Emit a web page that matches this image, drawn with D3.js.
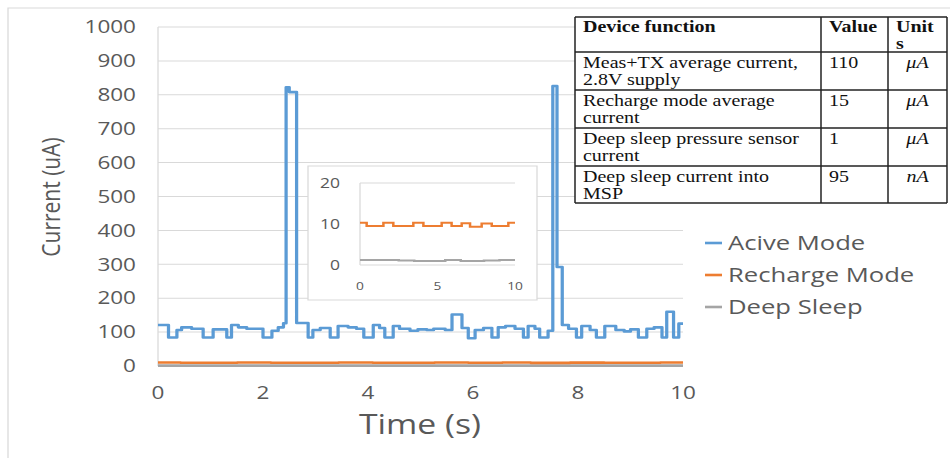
<!DOCTYPE html>
<html>
<head>
<meta charset="utf-8">
<script src="https://cdn.jsdelivr.net/npm/d3@7"></script>
<style>
    body { margin: 0; background: #fff; }
    svg { display: block; }
</style>
</head>
<body>
<svg id="chart"></svg>
<script>
"use strict";

// step series: time (s) where a level starts, and the level (uA)
var blueTime = [0.00, 0.20, 0.36, 0.45, 0.64, 0.86, 1.05, 1.31, 1.40, 1.53, 1.69, 2.00, 2.17, 2.29, 2.39,
    2.44, 2.50, 2.64, 2.86, 2.95, 3.09, 3.28, 3.43, 3.62, 3.78, 3.92, 4.10, 4.22, 4.32, 4.48, 4.60, 4.80,
    4.95, 5.12, 5.25, 5.47, 5.60, 5.79, 5.91, 6.04, 6.20, 6.36, 6.48, 6.62, 6.80, 6.96, 7.05, 7.18, 7.27,
    7.43, 7.52, 7.60, 7.70, 7.82, 7.97, 8.07, 8.23, 8.35, 8.51, 8.72, 8.88, 9.00, 9.15, 9.31, 9.45, 9.60,
    9.69, 9.82, 9.92, 10.00];
var blueCurrent = [121, 84, 106, 114, 110, 84, 108, 84, 121, 114, 110, 84, 104, 114, 126,
    822, 808, 127, 84, 106, 112, 84, 118, 114, 110, 84, 121, 112, 84, 118, 110, 104,
    108, 106, 110, 106, 152, 112, 82, 106, 112, 84, 114, 118, 110, 84, 118, 110, 84,
    104, 826, 292, 121, 110, 84, 118, 106, 84, 118, 106, 102, 108, 84, 110, 114, 84,
    160, 84, 125, 125];

var orangeTime = [0.00, 0.43, 1.51, 2.15, 3.44, 4.09, 5.27, 5.91, 6.56, 7.10, 7.85, 8.50, 9.57, 10.00];
var orangeCurrent = [10.3, 9.5, 10.3, 9.5, 10.3, 9.5, 10.3, 9.5, 10.2, 9.3, 10.1, 9.5, 10.3, 10.3];

var grayTime = [0.0, 2.5, 3.5, 5.5, 6.5, 8.0, 9.0, 10.0];
var grayCurrent = [1.2, 1.1, 1.0, 1.2, 1.0, 1.1, 1.2, 1.2];

var yTicks = [0, 100, 200, 300, 400, 500, 600, 700, 800, 900, 1000];
var xTicks = [0, 2, 4, 6, 8, 10];
var insetXTicks = [0, 5, 10];
var insetYTicks = [0, 10, 20];

var seriesNames = ["Acive Mode", "Recharge Mode", "Deep Sleep"];
var seriesColors = ["#5b9bd5", "#ed7d31", "#a5a5a5"];

var tableHeader = ["Device function", "Value", ["Unit", "s"]];
var tableFunction = [["Meas+TX average current,", "2.8V supply"], ["Recharge mode average", "current"],
    ["Deep sleep pressure sensor", "current"], ["Deep sleep current into", "MSP"]];
var tableValue = ["110", "15", "1", "95"];
var tableUnit = ["\u03bcA", "\u03bcA", "\u03bcA", "nA"];

// the picture is stretched sideways; draw in a narrower box and let the viewBox widen it
var WIDTH = 950,
    HEIGHT = 458,
    STRETCH = 1.25,
    VW = WIDTH / STRETCH,
    SANS = "'Open Sans', 'DejaVu Sans', sans-serif",
    SERIF = "'Liberation Serif', 'DejaVu Serif', serif",
    TEXT = "#595959",
    GRID = "#d9d9d9";

function px(v) {
    return v / STRETCH;
}

function zip(t, v) {
    return t.map(function (d, i) {
        return [d, v[i]];
    });
}

var svg = d3.select("#chart")
    .attr("width", WIDTH)
    .attr("height", HEIGHT)
    .attr("viewBox", "0 0 " + VW + " " + HEIGHT)
    .attr("preserveAspectRatio", "none");

svg.append("rect")
    .attr("x", px(8)).attr("y", 8)
    .attr("width", VW).attr("height", HEIGHT)
    .attr("fill", "#fff")
    .attr("stroke", GRID)
    .attr("stroke-width", 1);

// ---- main plot
var x = d3.scaleLinear().domain([0, 10]).range([px(158), px(683)]),
    y = d3.scaleLinear().domain([0, 1000]).range([366, 27]);

svg.append("g")
    .selectAll("line")
    .data(yTicks.slice(1))
    .join("line")
    .attr("x1", x(0)).attr("x2", x(10))
    .attr("y1", function (d) { return y(d); })
    .attr("y2", function (d) { return y(d); })
    .attr("stroke", GRID)
    .attr("stroke-width", 1);

svg.append("line")
    .attr("x1", x(0)).attr("x2", x(0))
    .attr("y1", y(1000)).attr("y2", y(0))
    .attr("stroke", GRID);
svg.append("line")
    .attr("x1", x(0)).attr("x2", x(10))
    .attr("y1", y(0)).attr("y2", y(0))
    .attr("stroke", "#bfbfbf")
    .attr("stroke-width", 1.2);

svg.append("g")
    .selectAll("text")
    .data(yTicks)
    .join("text")
    .attr("x", px(136))
    .attr("y", function (d) { return y(d); })
    .attr("dy", "0.35em")
    .attr("text-anchor", "end")
    .attr("font-family", SANS)
    .attr("font-size", 18)
    .attr("fill", TEXT)
    .text(function (d) { return d; });

svg.append("g")
    .selectAll("text")
    .data(xTicks)
    .join("text")
    .attr("x", function (d) { return x(d); })
    .attr("y", 399)
    .attr("text-anchor", "middle")
    .attr("font-family", SANS)
    .attr("font-size", 18)
    .attr("fill", TEXT)
    .text(function (d) { return d; });

svg.append("text")
    .attr("transform", "translate(" + px(60) + ",197) rotate(-90)")
    .attr("text-anchor", "middle")
    .attr("font-family", SANS)
    .attr("font-size", 21)
    .attr("fill", TEXT)
    .text("Current (uA)");

svg.append("text")
    .attr("x", px(420))
    .attr("y", 434)
    .attr("text-anchor", "middle")
    .attr("font-family", SANS)
    .attr("font-size", 27)
    .attr("fill", TEXT)
    .text("Time (s)");

var line = d3.line()
    .x(function (d) { return x(d[0]); })
    .y(function (d) { return y(d[1]); })
    .curve(d3.curveStepAfter);

var series = [zip(blueTime, blueCurrent), zip(orangeTime, orangeCurrent), zip(grayTime, grayCurrent)];

[2, 1, 0].forEach(function (i) {
    svg.append("path")
        .datum(series[i])
        .attr("d", line)
        .attr("fill", "none")
        .attr("stroke", seriesColors[i])
        .attr("stroke-width", 2.6)
        .attr("stroke-linejoin", "round");
});

// ---- legend
var legend = svg.append("g")
    .selectAll("g")
    .data(seriesNames)
    .join("g")
    .attr("transform", function (d, i) { return "translate(0," + (243 + i * 32) + ")"; });
legend.append("line")
    .attr("x1", px(705)).attr("x2", px(722))
    .attr("stroke", function (d, i) { return seriesColors[i]; })
    .attr("stroke-width", 2.6);
legend.append("text")
    .attr("x", px(728))
    .attr("dy", "0.35em")
    .attr("font-family", SANS)
    .attr("font-size", 20.5)
    .attr("fill", TEXT)
    .text(function (d) { return d; });

// ---- inset
svg.append("rect")
    .attr("x", px(308)).attr("y", 166)
    .attr("width", px(537) - px(308)).attr("height", 134)
    .attr("fill", "#fff")
    .attr("stroke", GRID);

var ix = d3.scaleLinear().domain([0, 10]).range([px(360), px(515)]),
    iy = d3.scaleLinear().domain([0, 20]).range([265, 183]);

svg.append("line")
    .attr("x1", ix(0)).attr("x2", ix(10))
    .attr("y1", iy(20)).attr("y2", iy(20))
    .attr("stroke", GRID);
svg.append("line")
    .attr("x1", ix(0)).attr("x2", ix(0))
    .attr("y1", iy(20)).attr("y2", iy(0))
    .attr("stroke", GRID);
svg.append("line")
    .attr("x1", ix(0)).attr("x2", ix(10))
    .attr("y1", iy(0)).attr("y2", iy(0))
    .attr("stroke", GRID);

svg.append("g")
    .selectAll("text")
    .data(insetYTicks)
    .join("text")
    .attr("x", px(340))
    .attr("y", function (d) { return iy(d); })
    .attr("dy", "0.35em")
    .attr("text-anchor", "end")
    .attr("font-family", SANS)
    .attr("font-size", 14)
    .attr("fill", TEXT)
    .text(function (d) { return d; });

svg.append("g")
    .selectAll("text")
    .data(insetXTicks)
    .join("text")
    .attr("x", function (d) { return ix(d); })
    .attr("y", 290)
    .attr("text-anchor", "middle")
    .attr("font-family", SANS)
    .attr("font-size", 11)
    .attr("fill", TEXT)
    .text(function (d) { return d; });

var insetLine = d3.line()
    .x(function (d) { return ix(d[0]); })
    .y(function (d) { return iy(d[1]); })
    .curve(d3.curveStepAfter);

[2, 1].forEach(function (i) {
    svg.append("path")
        .datum(series[i])
        .attr("d", insetLine)
        .attr("fill", "none")
        .attr("stroke", seriesColors[i])
        .attr("stroke-width", 2);
});

// ---- table
var colX = [px(575), px(821), px(888), px(947)],
    rowY = [17, 52, 90, 128, 166, 203],
    table = svg.append("g");

table.append("rect")
    .attr("x", colX[0]).attr("y", rowY[0])
    .attr("width", colX[3] - colX[0]).attr("height", rowY[5] - rowY[0])
    .attr("fill", "#fff");

function cellText(lines, col, row, opts) {
    var t = table.append("text")
        .attr("font-family", SERIF)
        .attr("font-size", 16)
        .attr("fill", "#111")
        .attr("font-weight", opts.bold ? "bold" : null)
        .attr("font-style", opts.italic ? "italic" : null)
        .attr("text-anchor", opts.center ? "middle" : "start");
    var tx = opts.center ? (colX[col] + colX[col + 1]) / 2 : colX[col] + px(8),
        top = rowY[row] + (row === 0 ? 15 : 16);
    [].concat(lines).forEach(function (s, i) {
        t.append("tspan")
            .attr("x", tx)
            .attr("y", top + i * 17)
            .text(s);
    });
}

cellText(tableHeader[0], 0, 0, { bold: true });
cellText(tableHeader[1], 1, 0, { bold: true });
cellText(tableHeader[2], 2, 0, { bold: true });
tableFunction.forEach(function (d, i) {
    cellText(d, 0, i + 1, {});
    cellText(tableValue[i], 1, i + 1, {});
    cellText(tableUnit[i], 2, i + 1, { italic: true, center: true });
});

table.selectAll("line.row")
    .data(rowY)
    .join("line")
    .attr("x1", colX[0]).attr("x2", colX[3])
    .attr("y1", function (d) { return d; })
    .attr("y2", function (d) { return d; })
    .attr("stroke", "#222")
    .attr("stroke-width", 1.4);
table.selectAll("line.col")
    .data(colX)
    .join("line")
    .attr("x1", function (d) { return d; })
    .attr("x2", function (d) { return d; })
    .attr("y1", rowY[0]).attr("y2", rowY[5])
    .attr("stroke", "#222")
    .attr("stroke-width", 1.2);
</script>
</body>
</html>
